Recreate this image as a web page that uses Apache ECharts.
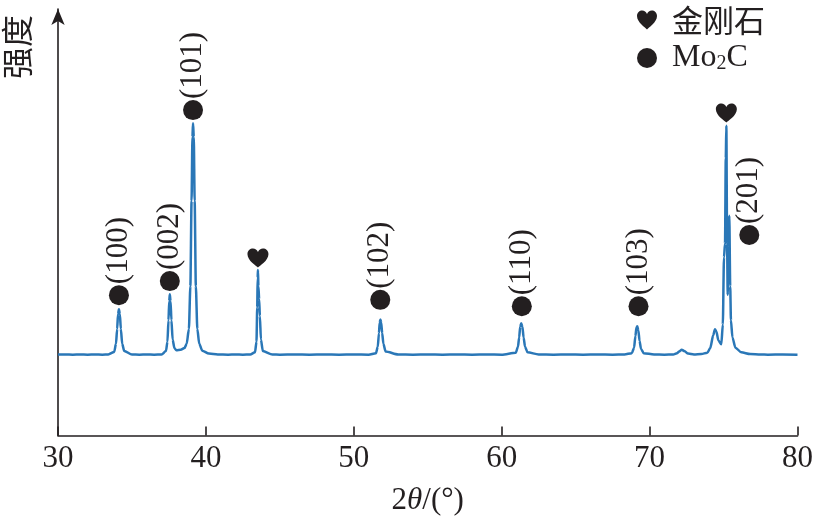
<!DOCTYPE html>
<html><head><meta charset="utf-8">
<script src="https://cdn.jsdelivr.net/npm/echarts@6/dist/echarts.min.js"></script>
<style>html,body{margin:0;padding:0;background:#fff}#c{width:816px;height:523px}</style>
</head><body><div id="c"></div>
<script>
// XRD pattern: 2θ (deg) and intensity (a.u.)
var twoTheta = [30.0,30.5,31.0,31.5,32.0,32.5,33.0,33.4,33.8,33.92,34.0,34.06,34.12,34.18,34.25,34.34,34.48,35.0,35.5,36.0,36.5,37.0,37.3,37.4,37.47,37.52,37.56,37.61,37.67,37.75,37.87,38.0,38.3,38.55,38.7,38.85,38.95,39.03,39.09,39.13,39.18,39.24,39.32,39.42,39.55,39.75,40.2,40.8,41.5,42.0,42.5,43.0,43.32,43.42,43.47,43.5,43.52,43.55,43.6,43.65,43.72,43.85,44.5,45.0,46.0,47.0,48.0,49.0,50.0,51.0,51.5,51.62,51.7,51.75,51.8,51.85,51.92,52.0,52.15,53.0,54.0,55.0,56.0,57.0,58.0,59.0,60.0,60.95,61.1,61.18,61.25,61.32,61.4,61.48,61.58,61.75,62.5,63.5,64.5,65.5,66.5,67.5,68.3,68.8,68.95,69.04,69.11,69.17,69.24,69.32,69.42,69.6,70.3,71.0,71.6,71.85,72.0,72.17,72.35,72.6,73.0,73.5,73.9,74.1,74.3,74.42,74.52,74.65,74.85,74.95,75.03,75.1,75.15,75.19,75.24,75.28,75.33,75.39,75.45,75.5,75.6,75.8,76.2,76.8,77.5,78.0,79.0,80.0];
var intensity = [19.0,19.0,18.95,19.0,18.95,19.0,18.95,19.0,19.6,21.5,25.0,28.5,29.6,28.5,25.0,21.5,19.8,19.0,18.95,19.0,18.95,19.0,19.8,22.0,27.0,31.5,33.1,31.5,27.0,22.5,20.5,20.0,20.1,20.5,21.5,25.0,35.0,55.0,70.0,73.2,70.0,55.0,35.0,25.0,21.5,19.9,19.2,19.0,18.95,19.0,18.95,19.0,19.5,22.0,30.0,37.0,38.8,35.0,32.0,28.0,22.5,19.8,19.0,18.95,19.0,18.95,19.0,18.95,19.0,18.95,19.3,20.8,24.0,26.5,27.2,26.5,24.0,21.5,19.7,19.0,18.95,19.0,18.95,19.0,18.95,19.0,18.95,19.4,20.8,23.0,25.5,26.3,25.5,23.0,20.8,19.5,19.0,18.95,19.0,18.95,19.0,18.95,19.0,19.3,20.6,23.3,25.3,25.6,24.6,22.2,20.3,19.3,19.0,18.95,19.0,19.3,19.7,20.1,19.8,19.2,19.0,19.1,19.4,20.5,23.5,24.9,24.3,22.3,21.4,26.0,41.8,45.0,65.0,72.6,45.0,33.0,44.0,51.5,35.0,27.0,23.0,20.6,19.5,19.1,19.0,18.95,19.0,18.95];

// Phase markers
var mo2cLabels = ['(100)','(002)','(101)','(102)','(110)','(103)','(201)'];
var mo2cX = [34.12,37.56,39.13,51.79,61.36,69.25,76.74];
var mo2cY = [32.9,36.2,76.3,31.8,30.3,30.3,47.0];
var diamondX = [43.52,75.19];
var diamondY = [41.6,75.6];

var xTicks = [30,40,50,60,70,80];
var seriesNames = ['金刚石','Mo2C'];

var ink = '#231f20';
var heart = 'path://M50,92 C44,84 4,60 4,30 C4,13 16,4 28,4 C38,4 46,10 50,20 C54,10 62,4 72,4 C84,4 96,13 96,30 C96,60 56,84 50,92 Z';

var chart = echarts.init(document.getElementById('c'), null, {renderer:'canvas'});
chart.setOption({
  animation:false,
  backgroundColor:'#fff',
  grid:{left:58, right:17, top:9, bottom:87.5},
  legend:{
    data: seriesNames,
    orient:'vertical', left:637, top:2, padding:0,
    itemWidth:20, itemHeight:20, itemGap:2,
    itemStyle:{opacity:1},
    textStyle:{fontFamily:'Liberation Serif', fontSize:32, color:ink, lineHeight:36, padding:[0,0,0,10],
      rich:{
        n:{fontFamily:'Liberation Serif', fontSize:32, color:ink, lineHeight:36},
        s:{fontFamily:'Liberation Serif', fontSize:20, color:ink, lineHeight:36, padding:[12,0,0,0]},
        c:{fontFamily:'Noto Sans CJK SC', fontSize:31, color:ink, lineHeight:36}
      }},
    formatter:function(name){
      if(name==='Mo2C') return '{n|Mo}{s|2}{n|C}';
      return '{c|'+name+'}';
    }
  },
  xAxis:{
    type:'value', min:xTicks[0], max:xTicks[xTicks.length-1], interval:10,
    name:'{a|2}{i|θ}{a|/(°)}', nameLocation:'middle', nameGap:50,
    nameTextStyle:{rich:{
      a:{fontFamily:'Liberation Serif', fontSize:31, color:ink},
      i:{fontFamily:'Liberation Serif', fontSize:31, fontStyle:'italic', color:ink}
    }},
    axisLine:{lineStyle:{color:ink, width:1.6}},
    axisTick:{inside:true, length:9, lineStyle:{color:ink, width:1.6}},
    axisLabel:{fontFamily:'Liberation Serif', fontSize:31, color:ink, margin:8},
    splitLine:{show:false}
  },
  yAxis:{
    type:'value', min:0, max:100,
    axisLine:{show:true, symbol:['none','arrow'], symbolSize:[10,16], lineStyle:{color:ink, width:1.6}},
    axisTick:{show:false}, axisLabel:{show:false}, splitLine:{show:false}
  },
  graphic:[{
    type:'text', x:17, y:47, rotation:Math.PI/2,
    style:{text:'强度', fontFamily:'Noto Sans CJK SC', fontSize:32, fill:ink, textAlign:'center', textVerticalAlign:'middle'}
  }],
  series:[
    {
      name:'XRD', type:'line', showSymbol:false, symbol:'none',
      data: twoTheta.map(function(x,i){return [x,intensity[i]];}),
      lineStyle:{color:'#2a77b7', width:2.5},
      smooth:0.25, smoothMonotone:'x', z:2
    },
    {
      name:seriesNames[0], type:'scatter', symbol:heart, symbolSize:[21,19],
      itemStyle:{color:ink, opacity:1},
      data: diamondX.map(function(x,i){return [x,diamondY[i]];}), z:3
    },
    {
      name:seriesNames[1], type:'scatter', symbol:'circle', symbolSize:20,
      itemStyle:{color:ink, opacity:1},
      data: mo2cX.map(function(x,i){return {name:mo2cLabels[i], value:[x,mo2cY[i]]};}),
      label:{show:true, position:'top', distance:1, rotate:90, align:'left', verticalAlign:'middle',
        formatter:function(p){return p.name;},
        fontFamily:'Liberation Serif', fontSize:31, color:ink},
      z:3
    }
  ]
});
</script></body></html>
